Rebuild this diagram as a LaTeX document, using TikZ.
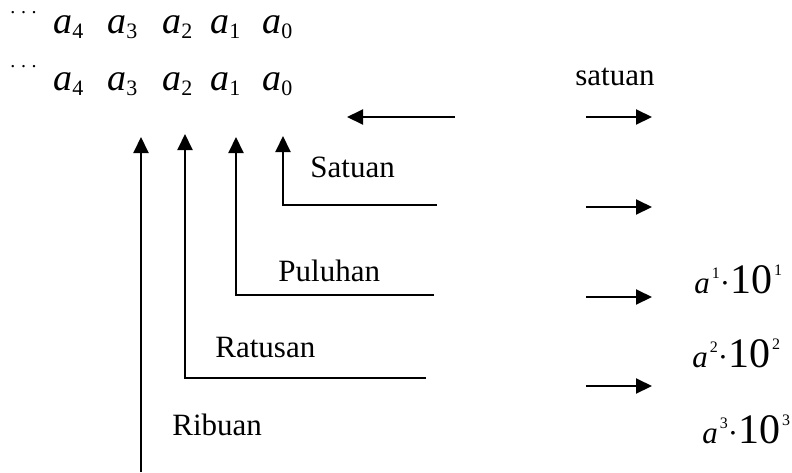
\documentclass[tikz,border=0pt]{standalone}
\usepackage{fontspec}
\setmainfont{Liberation Serif}[ItalicFont={Liberation Serif Italic}]
\usetikzlibrary{arrows.meta}
\tikzset{
    panah/.style={-{Triangle[length=8pt,width=7.5pt]},line width=1pt},
    teks/.style={anchor=base west,inner sep=0pt,font=\fontsize{15.5}{18}\selectfont},
}
\newcommand{\suku}[1]{{\fontsize{19}{22}\selectfont\itshape a}\raisebox{-2.5pt}{\fontsize{11}{12}\selectfont #1}}
\newcommand{\pangkat}[1]{\textit{a}\kern1pt\raisebox{7.5pt}{\fontsize{8}{9}\selectfont #1}\textperiodcentered{\fontsize{21}{24}\selectfont 10}\kern1pt\raisebox{9pt}{\fontsize{8}{9}\selectfont #1}}

\begin{document}
\begin{tikzpicture}[x=0.5pt,y=-0.5pt]
    \useasboundingbox (0,0) rectangle (792,472);

    % dua baris digit
    \node[teks,font=\fontsize{10}{11}\selectfont] (titik1) at (10,13) {.\kern2.8pt.\kern2.8pt.};
    \node[teks,font=\fontsize{10}{11}\selectfont] (titik2) at (10,67) {.\kern2.8pt.\kern2.8pt.};
    \foreach \i/\x in {4/53,3/107,2/162,1/210,0/262} {
        \node[teks] (atas\i) at (\x,33) {\suku{\i}};
        \node[teks] (bawah\i) at (\x,90) {\suku{\i}};
    }
    \node[teks] (satuan) at (575,85) {satuan};

    % panah kiri
    \coordinate (kiriA) at (455,117);
    \coordinate (kiriB) at (347,117);
    \draw[panah] (kiriA) -- (kiriB);

    % panah kanan
    \foreach \y [count=\k] in {117,207,297,386} {
        \coordinate (kananA\k) at (586,\y);
        \coordinate (kananB\k) at (652,\y);
        \draw[panah] (kananA\k) -- (kananB\k);
    }

    % satuan
    \coordinate (puncakS) at (283,136);
    \coordinate (sudutS) at (283,205);
    \coordinate (akhirS) at (437,205);
    \draw[panah] (akhirS) -- (sudutS) -- (puncakS);
    \node[teks] (lblSatuan) at (310,177) {Satuan};

    % puluhan
    \coordinate (puncakP) at (236,137);
    \coordinate (sudutP) at (236,295);
    \coordinate (akhirP) at (434,295);
    \draw[panah] (akhirP) -- (sudutP) -- (puncakP);
    \node[teks] (lblPuluhan) at (278,281) {Puluhan};

    % ratusan
    \coordinate (puncakR) at (185,134);
    \coordinate (sudutR) at (185,378);
    \coordinate (akhirR) at (426,378);
    \draw[panah] (akhirR) -- (sudutR) -- (puncakR);
    \node[teks] (lblRatusan) at (215,357) {Ratusan};

    % ribuan
    \coordinate (puncakB) at (141,137);
    \coordinate (dasarB) at (141,472);
    \draw[panah] (dasarB) -- (puncakB);
    \node[teks] (lblRibuan) at (172,435) {Ribuan};

    % nilai tempat
    \node[teks] (nilai1) at (694,293) {\pangkat{1}};
    \node[teks] (nilai2) at (692,367) {\pangkat{2}};
    \node[teks] (nilai3) at (702,443) {\pangkat{3}};
\end{tikzpicture}
\end{document}
